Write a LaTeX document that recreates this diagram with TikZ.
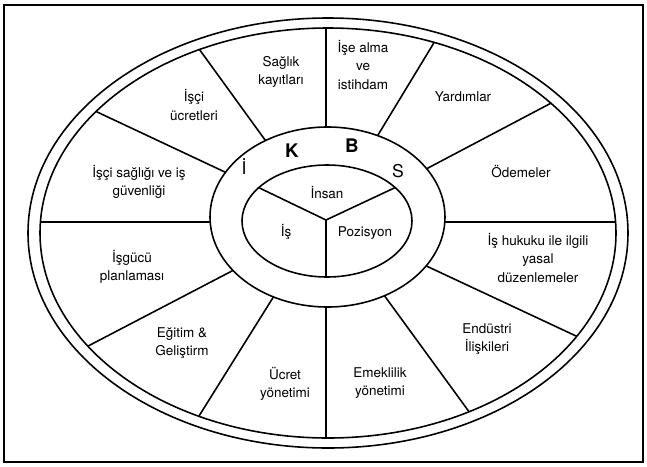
\documentclass[tikz,border=0pt]{standalone}
\usepackage{fontspec}
\setmainfont{TeX Gyre Heros}
\begin{document}
\begin{tikzpicture}[x=0.03cm, y=-0.03cm, line width=1.35pt,
    area/.style={align=center, font=\fontsize{11.5}{15.5}\selectfont},
    letter/.style={font=\fontsize{15}{15}\selectfont},
    boldletter/.style={font=\fontsize{16}{16}\selectfont\bfseries}]
     \useasboundingbox (0, 0) rectangle (647, 466);
     \draw (4, 5) rectangle (643, 462);

     % outer double ring, middle ring, core
     \draw (328, 233) ellipse [x radius=300, y radius=215];
     \draw (328, 233) ellipse [x radius=288, y radius=205];
     \draw (327.5, 217) ellipse [x radius=117.5, y radius=90];
     \draw (327, 221) ellipse [x radius=85, y radius=56];

     % twelve spokes
     \begin{scope}[even odd rule]
       \clip (328, 233) ellipse [x radius=288, y radius=205]
             (327.5, 217) ellipse [x radius=117.5, y radius=90];
       \draw (326, 10) -- (326, 140);
       \draw (187.5, 33) -- (274.5, 153);
       \draw (78, 103) -- (244, 181);
       \draw (30, 222) -- (220, 222);
       \draw (69, 356) -- (253, 260);
       \draw (186.5, 436) -- (284, 280);
       \draw (326, 290) -- (326, 450);
       \draw (373, 280) -- (486, 435);
       \draw (405, 256) -- (606, 350);
       \draw (435, 222) -- (630, 222);
       \draw (410, 177.5) -- (565.5, 95.5);
       \draw (371, 146.5) -- (442, 29.5);
     \end{scope}

     % core split in three
     \begin{scope}
       \clip (327, 221) ellipse [x radius=85, y radius=56];
       \draw (245, 181) -- (326, 220) -- (407, 182);
       \draw (326, 220) -- (326, 290);
     \end{scope}

     \node[area] (saglik) at (281, 72) {Sağlık\\kayıtları};
     \node[area] (iseAlma) at (363, 65) {İşe alma\\ve\\istihdam};
     \node[area] (yardim) at (463, 97) {Yardımlar};
     \node[area] (odeme) at (521, 172) {Ödemeler};
     \node[area] (hukuk) at (538, 258) {İş hukuku ile ilgili\\yasal\\düzenlemeler};
     \node[area] (endustri) at (487, 339) {Endüstri\\İlişkileri};
     \node[area] (emeklilik) at (380, 383) {Emeklilik\\yönetimi};
     \node[area] (ucret) at (285, 384) {Ücret\\yönetimi};
     \node[area] (egitim) at (182, 343) {Eğitim \&\\Geliştirm};
     \node[area] (isgucu) at (132, 267) {İşgücü\\planlaması};
     \node[area] (saglikGuv) at (139, 182) {İşçi sağlığı ve iş\\güvenliği};
     \node[area] (isciUcret) at (194, 105) {İşçi\\ücretleri};

     \node[area] (insan) at (327, 193) {İnsan};
     \node[area] (is) at (286, 232) {İş};
     \node[area] (pozisyon) at (365, 233) {Pozisyon};

     \node[letter] (harfI) at (244, 167) {İ};
     \node[boldletter] (harfK) at (292, 151) {K};
     \node[boldletter] (harfB) at (352, 146) {B};
     \node[letter] (harfS) at (398, 171) {S};
   \end{tikzpicture}
\end{document}
